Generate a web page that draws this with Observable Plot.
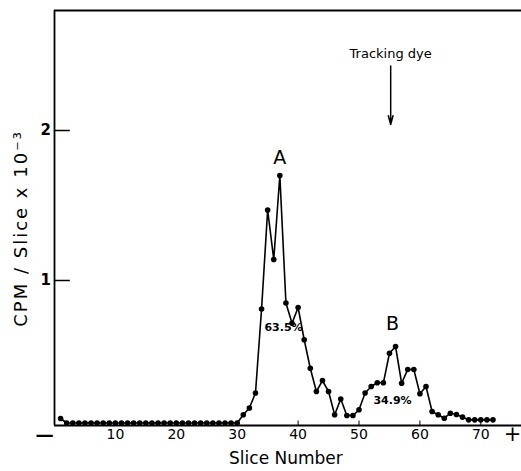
<!DOCTYPE html>
<html><head><meta charset="utf-8">
<script src="https://cdn.jsdelivr.net/npm/d3@7"></script>
<script src="https://cdn.jsdelivr.net/npm/@observablehq/plot@0.6"></script>
<style>body{margin:0;background:#fff}svg{display:block}</style>
</head><body><div id="chart"></div>
<script>
const slices = [1,2,3,4,5,6,7,8,9,10,11,12,13,14,15,16,17,18,19,20,21,22,23,24,25,26,27,28,29,30,
  31,32,33,34,35,36,37,38,39,40,41,42,43,44,45,46,47,48,49,50,51,52,53,54,55,56,57,58,59,60,
  61,62,63,64,65,66,67,68,69,70,71,72];
const cpm = [0.08,0.05,0.05,0.05,0.05,0.05,0.05,0.05,0.05,0.05,0.05,0.05,0.05,0.05,0.05,0.05,0.05,0.05,0.05,0.05,
  0.05,0.05,0.05,0.05,0.05,0.05,0.05,0.05,0.05,0.05,
  0.105,0.15,0.25,0.81,1.47,1.14,1.70,0.85,0.715,0.82,
  0.605,0.415,0.26,0.333,0.26,0.105,0.21,0.10,0.10,0.138,
  0.25,0.293,0.318,0.318,0.515,0.56,0.315,0.407,0.407,0.245,
  0.293,0.127,0.105,0.082,0.115,0.107,0.089,0.071,0.071,0.071,0.071,0.071];
const xTicks = [10,20,30,40,50,60,70];
const yTicks = [1,2];
const yLabel = "CPM / Slice x 10⁻³";
const peakLabels = ["A","B"];
const peakSlices = [37,55.5];
const peakHeights = [1.82,0.713];
const percentLabels = ["63.5%","34.9%"];
const percentSlices = [37.6,55.5];
const percentHeights = [0.687,0.2];
const dyeLabel = "Tracking dye";
const dyeSlice = 55.2;

const data = slices.map((s,i)=>({slice:s, cpm:cpm[i]}));
const yMin = 0.0333, yMax = 2.8;
const font = "DejaVu Sans";

const chart = Plot.plot({
  width: 521, height: 471,
  marginLeft: 54, marginRight: 0, marginTop: 10, marginBottom: 46,
  style: {fontFamily: font, background: "#fff", color: "#000"},
  x: {domain: [0, 76.68], axis: null},
  y: {domain: [yMin, yMax], axis: null},
  marks: [
    Plot.ruleX([0], {stroke: "#000", strokeWidth: 1.8}),
    Plot.ruleY([yMin], {stroke: "#000", strokeWidth: 1.8}),
    Plot.ruleY([yMax], {stroke: "#000", strokeWidth: 1.8}),
    Plot.ruleX(xTicks, {x: d=>d, y1: yMin, y2: yMin + 0.03, stroke: "#000", strokeWidth: 1}),
    Plot.ruleY(yTicks, {y: d=>d, x1: 0, x2: 2.6, stroke: "#000", strokeWidth: 1.5}),
    Plot.text(xTicks, {x: d=>d, frameAnchor: "bottom", dy: 13, text: d=>String(d), fontSize: 14}),
    Plot.text(yTicks, {y: d=>d, frameAnchor: "left", dx: -14, text: d=>String(d), fontSize: 15, fontWeight: "bold"}),
    Plot.text(["−"], {x: -1.6, frameAnchor: "bottom", dy: 18, text: d=>d, fontSize: 26}),
    Plot.text(["+"], {x: 75.2, frameAnchor: "bottom", dy: 15, text: d=>d, fontSize: 21}),
    Plot.text(["Slice Number"], {x: 38, frameAnchor: "bottom", dy: 38, text: d=>d, fontSize: 17}),
    Plot.text([yLabel], {y: 1.347, frameAnchor: "left", dx: -33, rotate: -90, textAnchor: "middle", text: d=>d, fontSize: 18}),
    Plot.line(data, {x: "slice", y: "cpm", stroke: "#000", strokeWidth: 1.6}),
    Plot.dot(data, {x: "slice", y: "cpm", r: 2.8, fill: "#000"}),
    Plot.text(peakLabels, {x: (d,i)=>peakSlices[i], y: (d,i)=>peakHeights[i], text: d=>d, fontSize: 19}),
    Plot.text(percentLabels, {x: (d,i)=>percentSlices[i], y: (d,i)=>percentHeights[i], text: d=>d, fontSize: 11, fontWeight: "bold"}),
    Plot.text([dyeLabel], {x: dyeSlice, y: 2.513, text: d=>d, fontSize: 13}),
    Plot.arrow([dyeSlice], {x1: d=>d, x2: d=>d, y1: 2.43, y2: 2.04, stroke: "#000", strokeWidth: 1.5, headLength: 9, headAngle: 30})
  ]
});
d3.select(chart).selectAll("text").filter(function(){ return this.textContent === yLabel; })
  .style("letter-spacing", "2px");
document.getElementById("chart").appendChild(chart);
</script>
</body></html>
